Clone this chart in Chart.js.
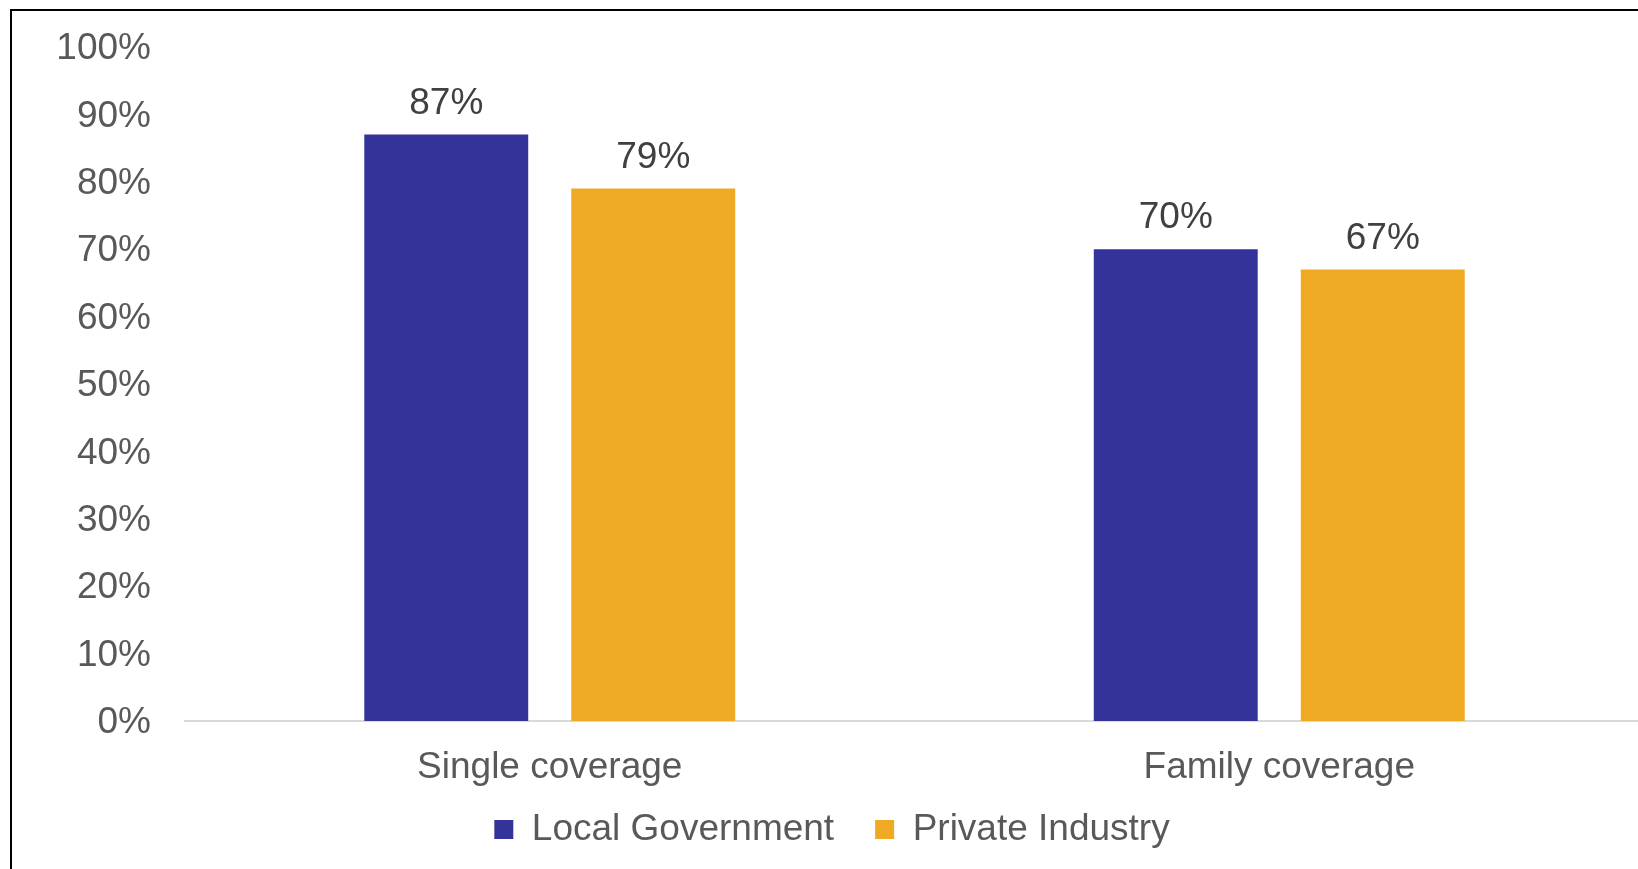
<!DOCTYPE html>
<html>
<head>
<meta charset="utf-8">
<title>Coverage comparison</title>
<script src="https://cdn.jsdelivr.net/npm/chart.js@4"></script>
<style>
  html, body {
    margin: 0;
    padding: 0;
    overflow: hidden;
    background: #fff;
  }
  #frame {
    position: absolute;
    left: 10px;
    top: 9px;
    width: 1700px;
    height: 900px;
    border-left: 2px solid #000;
    border-top: 2px solid #000;
  }
  #chart {
    position: absolute;
    left: 0;
    top: 0;
  }
</style>
</head>
<body>
<div id="frame"></div>
<canvas id="chart" width="1664" height="858"></canvas>
<script>
// === Data ===
const categories = ["Single coverage", "Family coverage"];
const localGovernment = [87, 70];
const privateIndustry = [79, 67];
const seriesNames = ["Local Government", "Private Industry"];
const yTicks = [0, 10, 20, 30, 40, 50, 60, 70, 80, 90, 100];

const FONT = "'Liberation Sans', Arial, sans-serif";

// === Value labels above each bar ===
const barLabels = {
  id: "barLabels",
  afterDatasetsDraw(chart) {
    const ctx = chart.ctx;
    ctx.save();
    ctx.font = "37px " + FONT;
    ctx.fillStyle = "#404040";
    ctx.textAlign = "center";
    ctx.textBaseline = "middle";
    chart.data.datasets.forEach((ds, i) => {
      chart.getDatasetMeta(i).data.forEach((bar, j) => {
        ctx.fillText(ds.data[j] + "%", bar.x, bar.y - 31);
      });
    });
    ctx.restore();
  },
};

// category labels hang below the (short) x axis box; stop them being clipped
const unclipXLabels = {
  id: "unclipXLabels",
  afterLayout(chart) {
    chart.scales.x.bottom = chart.height;
  },
};

new Chart(document.getElementById("chart"), {
  type: "bar",
  data: {
    labels: categories,
    datasets: [
      {
        label: seriesNames[0],
        data: localGovernment,
        backgroundColor: "#333399",
      },
      {
        label: seriesNames[1],
        data: privateIndustry,
        backgroundColor: "#EFA922",
      },
    ],
  },
  options: {
    responsive: false,
    animation: false,
    categoryPercentage: 0.5675,
    barPercentage: 0.792,
    layout: { padding: { left: 20, top: 47, right: 20, bottom: 0 } },
    plugins: {
      tooltip: { enabled: false },
      legend: {
        position: "bottom",
        labels: {
          color: "#595959",
          font: { family: FONT, size: 37 },
          boxWidth: 19,
          boxHeight: 19,
          padding: 41,
        },
      },
    },
    scales: {
      x: {
        grid: { display: false, drawTicks: false },
        border: { display: true, color: "#d9d9d9", width: 2 },
        ticks: {
          color: "#595959",
          font: { family: FONT, size: 37 },
          padding: 25,
        },
        afterFit: (scale) => {
          scale.height = 49;
        },
      },
      y: {
        min: yTicks[0],
        max: yTicks[yTicks.length - 1],
        grid: { display: false, drawTicks: false },
        border: { display: false },
        afterBuildTicks: (scale) => {
          scale.ticks = yTicks.map((v) => ({ value: v }));
        },
        ticks: {
          color: "#595959",
          font: { family: FONT, size: 37 },
          padding: 34,
          labelOffset: 2,
          callback: (v) => v + "%",
        },
        afterFit: (scale) => {
          scale.width = 165;
          // tick padding would otherwise push the plot top down
          scale.paddingTop = 0;
          scale.paddingBottom = 0;
        },
      },
    },
  },
  plugins: [barLabels, unclipXLabels],
});
</script>
</body>
</html>
